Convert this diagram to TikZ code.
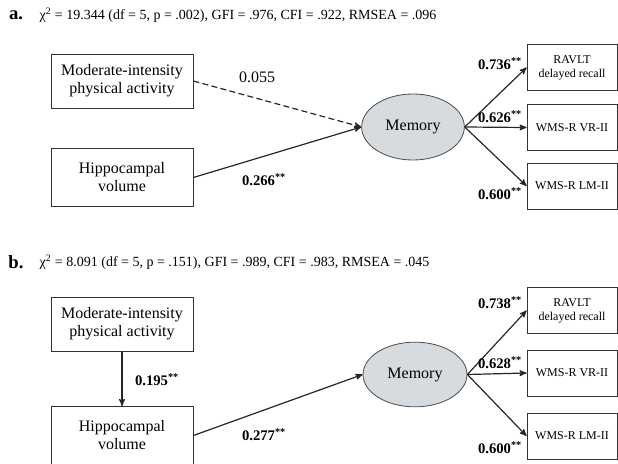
\documentclass[tikz,border=0pt]{standalone}
\usepackage{fontspec}
\setmainfont{Liberation Serif}
\usetikzlibrary{positioning,arrows,shapes}
\definecolor{latentgray}{RGB}{214,219,224}
\tikzset{
  obs/.style={draw=black!80, line width=0.6pt, align=center, inner sep=0pt,
    minimum width=106.5pt, minimum height=40.5pt, font=\fontsize{12}{13.5}\selectfont},
  ind/.style={draw=black!80, line width=0.6pt, align=center, inner sep=0pt,
    minimum width=67.5pt, minimum height=34.5pt, font=\fontsize{9}{10.5}\selectfont},
  latent/.style={ellipse, draw=black!70, line width=0.6pt, fill=latentgray, inner sep=0pt,
    minimum width=77pt, minimum height=49.5pt, font=\fontsize{12}{13.5}\selectfont},
  path/.style={line width=0.9pt, draw=black!85, ->, >=stealth'},
  nspath/.style={line width=0.9pt, draw=black!85, dashed, dash pattern=on 4.5pt off 2.5pt, ->, >=stealth'},
  coef/.style={font=\fontsize{11}{12}\bfseries\selectfont},
  fit/.style={anchor=west, font=\fontsize{10.5}{12}\selectfont},
  panel/.style={font=\fontsize{14}{16}\bfseries\selectfont}
}

\begin{document}
\begin{tikzpicture}[x=0.75pt, y=-0.75pt]
  \useasboundingbox (0,0) rectangle (618,464);
  % panel a
  \node[panel] (pa) at (16,15) {a.};
  \node[fit] (fa) at (35,15) {χ\textsuperscript{2} = 19.344 (df = 5, p = .002), GFI = .976, CFI = .922, RMSEA = .096};
  \node[obs] (mpaA) at (122,81) {Moderate-intensity\\physical activity};
  \node[obs, minimum height=44pt] (hipA) at (122,177.5) {Hippocampal\\volume};
  \node[latent] (memA) at (413,127) {Memory};
  \node[ind] (ravA) at (572,67.5) {RAVLT\\delayed recall};
  \node[ind] (vrA) at (572,127.5) {WMS-R VR-II};
  \node[ind] (lmA) at (572,186) {WMS-R LM-II};
  \draw[nspath] (mpaA.east) -- (memA.west);
  \draw[path] (hipA.east) -- (memA.west);
  \draw[path] (memA.east) -- (ravA.west);
  \draw[path] (memA.east) -- (vrA.west);
  \draw[path] (memA.east) -- (lmA.west);
  \node[font=\fontsize{12}{13}\selectfont] (cA1) at (257,77) {0.055};
  \node[coef] (cA2) at (264,180) {0.266\textsuperscript{**}};
  \node[coef] (cA3) at (500,64) {0.736\textsuperscript{**}};
  \node[coef] (cA4) at (500,117) {0.626\textsuperscript{**}};
  \node[coef] (cA5) at (500,194) {0.600\textsuperscript{**}};
  % panel b
  \node[panel] (pb) at (16,262) {b.};
  \node[fit] (fb) at (35,262) {χ\textsuperscript{2} = 8.091 (df = 5, p = .151), GFI = .989, CFI = .983, RMSEA = .045};
  \node[obs] (mpaB) at (122,324) {Moderate-intensity\\physical activity};
  \node[obs, minimum height=43.5pt] (hipB) at (122,435.5) {Hippocampal\\volume};
  \node[latent, minimum width=78pt, minimum height=48.5pt] (memB) at (415,374.5) {Memory};
  \node[ind] (ravB) at (572,310.5) {RAVLT\\delayed recall};
  \node[ind] (vrB) at (572,373) {WMS-R VR-II};
  \node[ind] (lmB) at (572,436) {WMS-R LM-II};
  \draw[path] (mpaB.south) -- (hipB.north);
  \draw[path] (hipB.east) -- (memB.west);
  \draw[path] (memB.east) -- (ravB.west);
  \draw[path] (memB.east) -- (vrB.west);
  \draw[path] (memB.east) -- (lmB.west);
  \node[coef] (cB1) at (157,380) {0.195\textsuperscript{**}};
  \node[coef] (cB2) at (264,435) {0.277\textsuperscript{**}};
  \node[coef] (cB3) at (500,303) {0.738\textsuperscript{**}};
  \node[coef] (cB4) at (500,363) {0.628\textsuperscript{**}};
  \node[coef] (cB5) at (500,448) {0.600\textsuperscript{**}};
\end{tikzpicture}
\end{document}
